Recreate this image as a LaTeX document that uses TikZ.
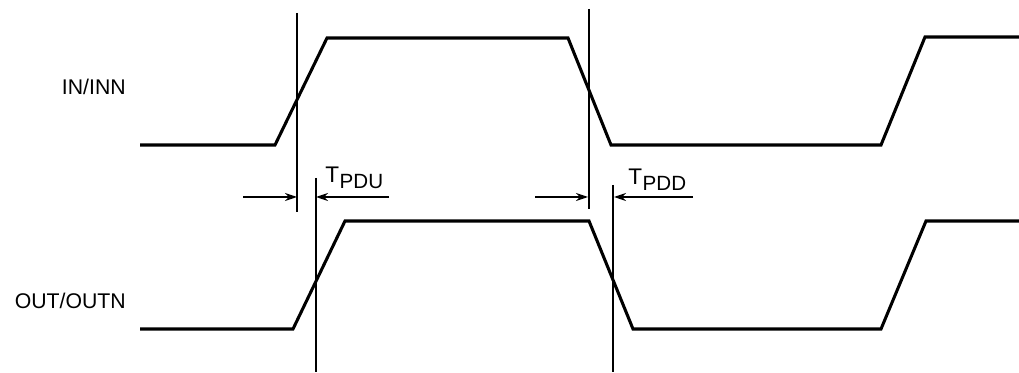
\documentclass[tikz,border=0pt]{standalone}
\usepackage{fontspec}
\setmainfont{Liberation Sans}
\usetikzlibrary{arrows.meta}
\tikzset{wave/.style={line width=2.3pt,line join=miter},
 thin line/.style={line width=1.1pt},
 dim/.style={line width=1.1pt,-{Stealth[length=9pt,width=6pt]}},
 lab/.style={inner sep=0pt,anchor=east,font=\fontsize{16pt}{18pt}\selectfont},
 tlab/.style={inner sep=0pt,anchor=base west,font=\fontsize{17pt}{18pt}\selectfont}}
\begin{document}
\begin{tikzpicture}[x=0.0264583cm,y=-0.0264583cm]
\useasboundingbox (0,0) rectangle (1019,373);
\fill[white] (0,0) rectangle (1019,373);
\draw[wave] (140,145)--(275,145)--(327,38)--(568,38)--(611,145)--(881,145)--(925,37)--(1019,37);
\draw[wave] (140,329)--(293,329)--(345,221)--(589,221)--(633,329)--(881,329)--(926,221)--(1019,221);
\coordinate (v1t) at (297,13); \coordinate (v1b) at (297,212);
\coordinate (v2t) at (589,9); \coordinate (v2b) at (589,209);
\coordinate (v3t) at (316,178); \coordinate (v3b) at (316,372);
\coordinate (v4t) at (613,185); \coordinate (v4b) at (613,372);
\draw[thin line] (v1t)--(v1b);
\draw[thin line] (v2t)--(v2b);
\draw[thin line] (v3t)--(v3b);
\draw[thin line] (v4t)--(v4b);
\coordinate (d1) at (243,197); \coordinate (d1e) at (297,197);
\coordinate (d2) at (389,197); \coordinate (d2e) at (316,197);
\coordinate (d3) at (535,197); \coordinate (d3e) at (588,197);
\coordinate (d4) at (693,197); \coordinate (d4e) at (614,197);
\draw[dim] (d1)--(d1e);
\draw[dim] (d2)--(d2e);
\draw[dim] (d3)--(d3e);
\draw[dim] (d4)--(d4e);
\node[lab] (in) at (126,87) {IN/INN};
\node[lab] (out) at (126,301) {OUT/OUTN};
\node[tlab] (t1) at (325,183) {T\kern0.5pt\raisebox{-4.5pt}{\fontsize{15.5pt}{18pt}\selectfont PDU}};
\node[tlab] (t2) at (628,185) {T\kern0.5pt\raisebox{-4pt}{\fontsize{15.5pt}{18pt}\selectfont PDD}};
\end{tikzpicture}
\end{document}
